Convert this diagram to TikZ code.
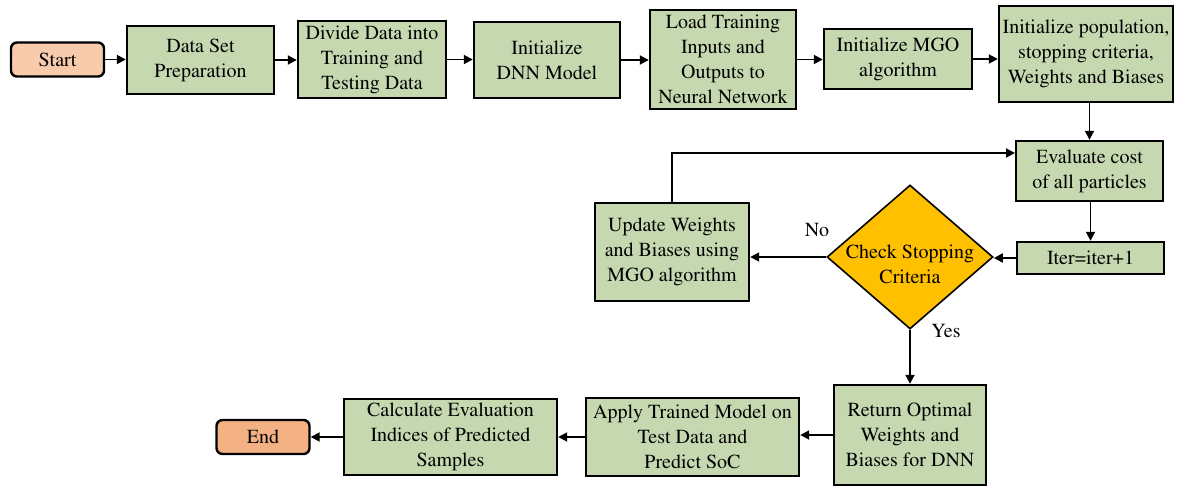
\documentclass[tikz,border=0pt]{standalone}
\usepackage[T1]{fontenc}
\usepackage{times}
\usetikzlibrary{shapes.geometric,arrows.meta}

\begin{document}
\begin{tikzpicture}[x=1pt,y=1pt,yscale=-1,xscale=1,
  every node/.style={font=\rmfamily\fontsize{20}{25}\selectfont,align=center},
  box/.style={draw,line width=2.4pt,fill={rgb, 255:red, 197; green, 216; blue, 176},inner sep=0pt},
  terminal/.style={draw,line width=2.4pt,rounded corners=6pt,inner sep=0pt,minimum width=93,minimum height=34},
  decision/.style={diamond,draw,line width=1.6pt,fill={rgb, 255:red, 255; green, 192; blue, 0},inner sep=0pt,minimum width=166,minimum height=144},
  flow/.style={line width=1.8pt,-{Triangle[length=9pt,width=9pt]}}]
\useasboundingbox (0,0) rectangle (1177,485);

% Top row
\node [terminal,fill={rgb, 255:red, 248; green, 203; blue, 173}] (start) at (57.5,59.5) {Start};
\node [box,minimum width=147,minimum height=68] (prep) at (200.5,60) {Data Set\\Preparation};
\node [box,minimum width=148,minimum height=77] (divide) at (372,59.5) {Divide Data into\\Training and\\Testing Data};
\node [box,minimum width=146,minimum height=76] (initdnn) at (547,60) {Initialize\\DNN Model};
\node [box,minimum width=146,minimum height=99] (load) at (723,59.5) {Load Training\\Inputs and\\Outputs to\\Neural Network};
\node [box,minimum width=148,minimum height=60] (initmgo) at (898,59) {Initialize MGO\\algorithm};
\node [box,minimum width=174,minimum height=96] (initpop) at (1086,54) {Initialize population,\\stopping criteria,\\Weights and Biases};

% Loop
\node [box,minimum width=147,minimum height=60] (evalcost) at (1089.5,171) {Evaluate cost\\of all particles};
\node [box,minimum width=147,minimum height=32] (iter) at (1090.5,258) {Iter=iter+1};
\node [decision] (check) at (910,257) {\raisebox{-14pt}[0pt][0pt]{\begin{tabular}{@{}c@{}}Check Stopping\\Criteria\end{tabular}}};
\node [box,minimum width=154,minimum height=98] (update) at (672,252) {Update Weights\\and Biases using\\MGO algorithm};
\coordinate (loopin) at (1015,153);

% Bottom row
\node [box,minimum width=152,minimum height=100] (ret) at (910,435) {Return Optimal\\Weights and\\Biases for DNN};
\node [box,minimum width=213,minimum height=78] (apply) at (692.5,437) {Apply Trained Model on\\Test Data and\\Predict SoC};
\node [box,minimum width=213,minimum height=76] (calc) at (450.5,437) {Calculate Evaluation\\Indices of Predicted\\Samples};
\node [terminal,fill={rgb, 255:red, 244; green, 177; blue, 131}] (end) at (263,437) {End};

% Labels
\node (lblno) at (817,230) {No};
\node (lblyes) at (946,331) {Yes};

% Connectors
\draw [flow] (start.east) -- (start.east -| prep.west);
\draw [flow] (prep.east) -- (prep.east -| divide.west);
\draw [flow] (divide.east) -- (divide.east -| initdnn.west);
\draw [flow] (initdnn.east) -- (initdnn.east -| load.west);
\draw [flow] (load.east) -- (load.east -| initmgo.west);
\draw [flow] (initmgo.east) -- (initmgo.east -| initpop.west);
\draw [flow] (initpop.south -| evalcost.north) -- (evalcost.north);
\draw [flow] (evalcost.south) -- (evalcost.south -| iter.north) -- (iter.north);
\draw [flow] (iter.west) -- (iter.west -| check.east);
\draw [flow] (check.west) -- (check.west -| update.east);
\draw [flow] (update.north) |- (loopin);
\draw [flow] (check.south) -- (check.south |- ret.north);
\draw [flow] (ret.west) -- (ret.west -| apply.east);
\draw [flow] (apply.west) -- (apply.west -| calc.east);
\draw [flow] (calc.west) -- (calc.west -| end.east);

\end{tikzpicture}
\end{document}
